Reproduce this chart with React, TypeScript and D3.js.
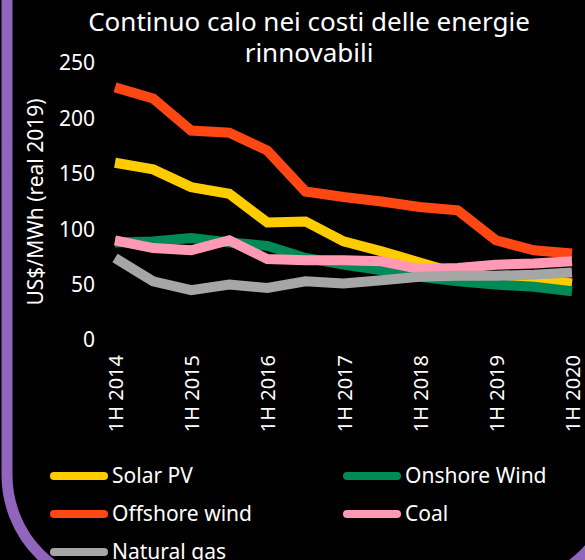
import React, { useEffect, useRef } from 'react';
import * as d3 from 'd3';

const periods = [
  '1H 2014', '2H 2014', '1H 2015', '2H 2015', '1H 2016', '2H 2016', '1H 2017',
  '2H 2017', '1H 2018', '2H 2018', '1H 2019', '2H 2019', '1H 2020',
];
const solarPV = [160, 154, 138, 132, 106, 107, 89, 80, 70, 60, 57, 55, 51];
const onshoreWind = [88, 89, 92, 88, 85, 74, 68, 63, 57, 53, 50, 48, 44];
const offshoreWind = [228, 218, 189, 187, 171, 134, 129, 125, 120, 117, 90, 81, 78];
const coal = [90, 83, 81, 90, 73, 72, 72, 71, 64, 65, 68, 69, 71];
const naturalGas = [74, 53, 45, 50, 47, 53, 51, 54, 57, 58, 58, 59, 61];
const yTicks = [0, 50, 100, 150, 200, 250];

const series = [
  { name: 'Solar PV', values: solarPV, color: '#FFCC00' },
  { name: 'Onshore Wind', values: onshoreWind, color: '#008A58' },
  { name: 'Offshore wind', values: offshoreWind, color: '#FF4713' },
  { name: 'Coal', values: coal, color: '#FF99B4' },
  { name: 'Natural gas', values: naturalGas, color: '#A6A6A6' },
];

const FONT = "'Noto Sans', sans-serif";

export default function App() {
  const svgRef = useRef<SVGSVGElement | null>(null);

  useEffect(() => {
    document.body.style.margin = '0';
    document.body.style.background = '#000';
    if (!svgRef.current) return;

    const width = 585;
    const height = 560;
    const svg = d3.select(svgRef.current);
    svg.selectAll('*').remove();
    svg.attr('width', width).attr('height', height);

    svg.append('rect').attr('width', width).attr('height', height).attr('fill', '#000');

    // purple frame
    svg.append('rect')
      .attr('x', 7).attr('y', -200)
      .attr('width', 610).attr('height', 787)
      .attr('rx', 112)
      .attr('fill', 'none')
      .attr('stroke', '#9164BE')
      .attr('stroke-width', 11);

    const x = d3.scalePoint<string>().domain(periods).range([115, 572]);
    const y = d3.scaleLinear().domain([0, 250]).range([340, 63]);

    // title
    const title = svg.append('text')
      .attr('fill', '#fff')
      .attr('font-family', FONT)
      .attr('font-size', 26)
      .attr('text-anchor', 'middle');
    title.append('tspan').attr('x', 309).attr('y', 31).text('Continuo calo nei costi delle energie');
    title.append('tspan').attr('x', 309).attr('y', 62).text('rinnovabili');

    // y axis
    svg.append('g')
      .selectAll('text')
      .data(yTicks)
      .enter()
      .append('text')
      .attr('x', 95)
      .attr('y', d => y(d))
      .attr('dy', '0.35em')
      .attr('text-anchor', 'end')
      .attr('fill', '#fff')
      .attr('font-family', FONT)
      .attr('font-size', 21)
      .text(d => d);

    svg.append('text')
      .attr('transform', 'translate(36,202) rotate(-90)')
      .attr('text-anchor', 'middle')
      .attr('dy', '0.35em')
      .attr('fill', '#fff')
      .attr('font-family', FONT)
      .attr('font-size', 21)
      .text('US$/MWh (real 2019)');

    // x axis labels (every other period)
    svg.append('g')
      .selectAll('text')
      .data(periods.filter((_, i) => i % 2 === 0))
      .enter()
      .append('text')
      .attr('transform', d => `translate(${x(d)! + 1},355) rotate(-90)`)
      .attr('text-anchor', 'end')
      .attr('dy', '0.35em')
      .attr('fill', '#fff')
      .attr('font-family', FONT)
      .attr('font-size', 20)
      .text(d => d);

    // lines
    const line = d3.line<number>()
      .x((_, i) => x(periods[i])!)
      .y(d => y(d));

    svg.append('g')
      .selectAll('path')
      .data(series)
      .enter()
      .append('path')
      .attr('d', d => line(d.values))
      .attr('fill', 'none')
      .attr('stroke', d => d.color)
      .attr('stroke-width', 10)
      .attr('stroke-linejoin', 'miter');

    // legend
    const legend = svg.append('g')
      .selectAll('g')
      .data(series)
      .enter()
      .append('g')
      .attr('transform', (_, i) => `translate(${i % 2 === 0 ? 50 : 343},${476 + Math.floor(i / 2) * 38})`);

    legend.append('line')
      .attr('x1', 4).attr('x2', 54)
      .attr('stroke', d => d.color)
      .attr('stroke-width', 8)
      .attr('stroke-linecap', 'round');

    legend.append('text')
      .attr('x', 62)
      .attr('dy', '0.35em')
      .attr('fill', '#fff')
      .attr('font-family', FONT)
      .attr('font-size', 21)
      .text(d => d.name);
  }, []);

  return <svg ref={svgRef} style={{ display: 'block' }}></svg>;
}
